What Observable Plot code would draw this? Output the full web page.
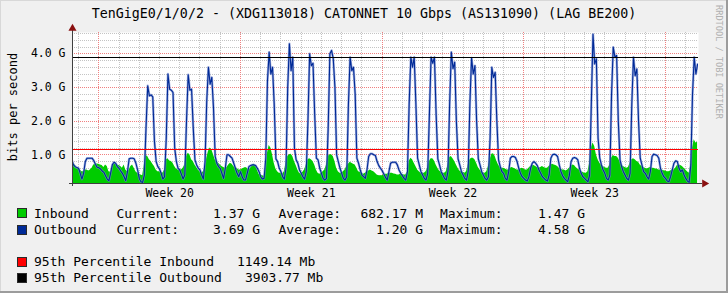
<!DOCTYPE html>
<html><head><meta charset="utf-8">
<script src="https://cdn.jsdelivr.net/npm/d3@7"></script>
<script src="https://cdn.jsdelivr.net/npm/@observablehq/plot@0.6"></script>
<style>
html,body{margin:0;padding:0;background:#f0f0f0;}
#wrap{position:relative;width:728px;height:293px;background:#f0f0f0;overflow:hidden;font-family:"DejaVu Sans Mono",monospace;color:#000;}
#wrap svg{position:absolute;left:0;top:0;}
.t{position:absolute;white-space:pre;font-size:13px;line-height:15px;}
.sw{position:absolute;width:8px;height:8px;border:1px solid #2a2a2a;}
.bd{position:absolute;}
</style></head><body>
<div id="wrap"></div>
<script>
// ---- data: samples every 2 hours, first sample = Saturday 16:00 before Week 20 ----
const firstSampleHour = -32;   // hours relative to Monday 00:00 of Week 20
const sampleStepHours = 2;
// Outbound (Gbit/s), one line per day (00h..22h)
const outboundGbps = [
  0.85,0.7,0.65,0.62,
  0.6,0.45,0.28,0.45,0.8,0.9,0.9,0.9,0.9,0.83,0.72,0.63,
  0.62,0.58,0.52,0.48,0.38,0.28,0.23,0.45,0.7,0.78,0.75,0.65,
  0.6,0.52,0.45,0.35,0.23,0.5,0.88,0.9,0.9,0.88,0.75,0.55,
  0.3,0.2,0.18,0.4,1.8,3.05,2.75,2.78,2.72,1.4,0.8,0.65,
  0.58,0.45,0.28,0.35,1.5,3.4,2.95,2.92,2.85,1.2,0.8,0.6,
  0.55,0.42,0.28,0.4,2.0,3.38,2.92,2.95,1.8,0.85,0.7,0.6,
  0.55,0.4,0.28,0.8,2.6,3.6,3.1,3.3,2.4,0.95,0.75,0.65,
  0.6,0.45,0.3,0.6,1.0,1.0,0.95,0.9,0.75,0.6,0.45,0.35,
  0.5,0.35,0.25,0.25,0.45,0.65,0.68,0.7,0.7,0.68,0.6,0.5,
  0.35,0.28,0.3,0.9,3.2,4.05,3.4,3.6,2.5,0.88,0.8,0.6,
  0.5,0.35,0.28,0.6,3.0,4.3,3.5,3.9,1.2,0.85,0.75,0.55,
  0.45,0.35,0.28,0.5,2.0,4.0,3.65,3.72,2.2,0.9,0.85,0.6,
  0.45,0.3,0.25,0.3,1.8,4.0,4.1,3.86,3.0,1.0,0.8,0.6,
  0.45,0.3,0.25,0.35,2.5,3.9,3.5,3.6,2.8,0.9,0.75,0.55,
  0.4,0.35,0.3,0.55,0.95,1.03,1.03,1.0,0.98,0.8,0.68,0.6,
  0.53,0.43,0.33,0.25,0.5,0.75,0.78,0.78,0.78,0.7,0.55,0.45,
  0.38,0.3,0.25,0.5,2.5,3.9,3.6,3.9,2.5,0.9,0.7,0.5,
  0.4,0.3,0.25,0.45,2.2,3.9,3.72,3.9,2.2,0.88,0.7,0.5,
  0.4,0.3,0.25,0.5,2.5,4.05,3.56,3.75,2.0,0.88,0.7,0.5,
  0.4,0.3,0.25,0.5,2.5,3.88,3.4,3.65,2.0,0.88,0.7,0.5,
  0.4,0.3,0.25,0.35,1.5,3.6,3.3,3.45,2.0,0.85,0.65,0.5,
  0.45,0.3,0.25,0.5,0.9,0.95,0.95,0.92,0.8,0.6,0.45,0.35,
  0.3,0.25,0.22,0.35,0.6,0.75,0.8,0.75,0.68,0.55,0.45,0.35,
  0.3,0.25,0.22,0.4,0.9,1.0,1.02,1.0,0.95,0.7,0.5,0.38,
  0.3,0.25,0.2,0.4,0.8,0.9,0.92,0.9,0.85,0.6,0.45,0.35,
  0.3,0.25,0.2,0.4,2.5,4.58,3.7,3.85,1.5,0.9,0.7,0.55,
  0.45,0.3,0.25,0.4,2.8,4.2,3.9,3.95,2.0,0.85,0.65,0.5,
  0.4,0.3,0.25,0.45,2.5,3.9,3.35,3.55,2.0,0.9,0.7,0.5,
  0.45,0.35,0.28,0.5,0.95,1.02,1.0,0.98,0.9,0.6,0.45,0.35,
  0.3,0.22,0.2,0.35,0.55,0.75,0.82,0.8,0.6,0.5,0.55,0.4,
  0.3,0.22,0.18,0.7,2.8,3.9,3.4,3.69
];
// Inbound (Gbit/s)
const inboundGbps = [
  0.75,0.72,0.7,0.6,
  0.6,0.55,0.5,0.5,0.55,0.55,0.52,0.55,0.6,0.7,0.72,0.73,
  0.72,0.7,0.68,0.62,0.7,0.65,0.5,0.48,0.65,0.72,0.73,0.7,
  0.68,0.65,0.6,0.7,0.55,0.5,0.55,0.65,0.7,0.6,0.5,0.45,
  0.42,0.4,0.38,0.7,0.98,0.95,0.85,0.8,0.72,0.65,0.55,0.5,
  0.5,0.48,0.45,0.55,0.85,0.88,0.82,0.8,0.75,0.65,0.58,0.55,
  0.55,0.55,0.6,0.7,0.95,1.05,1.0,0.85,0.8,0.7,0.62,0.55,
  0.5,0.45,0.5,0.6,0.9,1.1,1.2,1.15,1.0,0.85,0.8,0.75,
  0.7,0.65,0.62,0.6,0.62,0.7,0.75,0.72,0.65,0.6,0.6,0.55,
  0.55,0.58,0.6,0.62,0.6,0.55,0.6,0.7,0.72,0.68,0.55,0.42,
  0.4,0.38,0.35,0.6,1.05,1.28,1.2,1.0,0.75,0.58,0.5,0.45,
  0.45,0.42,0.5,0.75,0.95,1.0,1.02,0.95,0.8,0.68,0.55,0.45,
  0.42,0.48,0.55,0.7,0.85,0.88,0.85,0.8,0.7,0.55,0.45,0.42,
  0.45,0.5,0.55,0.7,0.95,1.0,1.0,0.95,0.8,0.6,0.5,0.45,
  0.45,0.5,0.55,0.65,0.72,0.78,0.75,0.72,0.7,0.6,0.5,0.48,
  0.45,0.42,0.45,0.5,0.52,0.55,0.52,0.5,0.45,0.4,0.38,0.38,
  0.38,0.4,0.42,0.42,0.45,0.45,0.45,0.43,0.42,0.4,0.4,0.42,
  0.42,0.4,0.4,0.5,0.8,0.9,0.85,0.75,0.65,0.55,0.5,0.45,
  0.45,0.45,0.5,0.6,0.8,0.88,0.88,0.82,0.7,0.6,0.52,0.48,
  0.45,0.45,0.5,0.7,0.92,0.95,0.88,0.8,0.7,0.6,0.52,0.5,
  0.48,0.45,0.5,0.7,0.85,0.9,0.9,0.85,0.75,0.62,0.55,0.5,
  0.45,0.45,0.5,0.65,0.85,1.02,1.03,0.95,0.8,0.7,0.62,0.6,
  0.6,0.58,0.55,0.55,0.6,0.62,0.6,0.58,0.55,0.55,0.58,0.6,
  0.58,0.55,0.55,0.6,0.65,0.68,0.68,0.65,0.62,0.6,0.62,0.65,
  0.62,0.6,0.6,0.65,0.7,0.72,0.7,0.68,0.65,0.6,0.58,0.55,
  0.55,0.52,0.55,0.6,0.65,0.7,0.68,0.62,0.58,0.55,0.5,0.48,
  0.45,0.45,0.5,0.75,1.2,1.35,1.25,1.0,0.85,0.75,0.7,0.65,
  0.62,0.6,0.6,0.7,0.9,0.98,0.95,0.95,0.9,0.8,0.7,0.65,
  0.62,0.6,0.62,0.75,0.85,0.88,0.85,0.8,0.78,0.7,0.65,0.62,
  0.6,0.58,0.6,0.62,0.6,0.6,0.58,0.58,0.55,0.55,0.55,0.53,
  0.52,0.5,0.5,0.52,0.55,0.55,0.6,0.68,0.7,0.68,0.65,0.6,
  0.55,0.5,0.45,0.7,1.2,1.45,1.35,1.37
];
const p95Inbound = 1.14914;   // Gbit/s
const p95Outbound = 3.90377;  // Gbit/s
const weekLabels = ["Week 20","Week 21","Week 22","Week 23"];
const weekCenters = [3.5, 10.5, 17.5, 24.5];          // days
const weekStarts = [0, 7, 14, 21, 28];                // days
const dayTicks = [-1,1,2,3,4,5,6,8,9,10,11,12,13,15,16,17,18,19,20,22,23,24,25,26,27,29];
const yMajor = [1, 2, 3, 4];
const yMinor = [0.2,0.4,0.6,0.8,1.2,1.4,1.6,1.8,2.2,2.4,2.6,2.8,3.2,3.4,3.6,3.8,4.2,4.4,4.6];
const xDomain = [-1.299, 29.629];
const yDomain = [0.148, 4.633];

const title = "TenGigE0/1/0/2 - (XDG113018) CATONNET 10 Gbps (AS131090) (LAG BE200)";
const legendRows = [
  {name:"Inbound",  color:"#00cc00", cur:"1.37 G", avg:"682.17 M", max:"1.47 G"},
  {name:"Outbound", color:"#002a97", cur:"3.69 G", avg:"1.20 G",   max:"4.58 G"}
];
const pctRows = [
  {name:"95th Percentile Inbound",  color:"#ff0000", value:"1149.14 Mb"},
  {name:"95th Percentile Outbound", color:"#000000", value:"3903.77 Mb"}
];

const samples = outboundGbps.map((v, i) => ({
  day: (firstSampleHour + i * sampleStepHours) / 24,
  out: v,
  inb: inboundGbps[i]
}));

const crisp = {shapeRendering: "crispEdges"};
const chart = Plot.plot({
  width: 728, height: 200,
  marginLeft: 72, marginRight: 30, marginTop: 32, marginBottom: 17,
  style: {background: "transparent", fontFamily: "'DejaVu Sans Mono', monospace", fontSize: "11.5px", color: "#000"},
  x: {domain: xDomain, axis: null},
  y: {domain: yDomain, axis: null},
  marks: [
    Plot.frame({fill: "#ffffff", stroke: "none"}),
    Plot.ruleY(yMinor, {stroke: "#c4c4c4", strokeDasharray: "1,1", ...crisp}),
    Plot.ruleX(dayTicks, {stroke: "#c4c4c4", strokeDasharray: "1,1", ...crisp}),
    Plot.ruleY(yMajor, {stroke: "#f08080", strokeDasharray: "1,1", ...crisp}),
    Plot.ruleX(weekStarts, {stroke: "#f08080", strokeDasharray: "1,1", ...crisp}),
    Plot.areaY(samples, {x: "day", y1: yDomain[0], y2: "inb", fill: "#00cc00", clip: true}),
    Plot.lineY(samples, {x: "day", y: "out", stroke: "#7b8fd0", strokeWidth: 2.4, strokeOpacity: 0.7, clip: true}),
    Plot.lineY(samples, {x: "day", y: "out", stroke: "#002a97", strokeWidth: 1.1, clip: true}),
    Plot.ruleY([p95Inbound], {stroke: "#ff0000", strokeWidth: 1, ...crisp}),
    Plot.ruleY([p95Outbound], {stroke: "#000000", strokeWidth: 1, ...crisp}),
    Plot.ruleY([yDomain[0]], {stroke: "#404040", strokeWidth: 1, insetLeft: -3, insetRight: -4, ...crisp}),
    Plot.ruleX([xDomain[0]], {stroke: "#404040", strokeWidth: 1, insetTop: -3, insetBottom: -3, ...crisp}),
    Plot.dot([{x: xDomain[1], y: yDomain[0]}], {x: "x", y: "y", symbol: "triangle", r: 3, fill: "#8a1010", stroke: "none", rotate: 90, dx: 6}),
    Plot.dot([{x: xDomain[0], y: yDomain[1]}], {x: "x", y: "y", symbol: "triangle", r: 3, fill: "#8a1010", stroke: "none", dy: -4}),
    Plot.axisY(yMajor, {anchor: "left", tickSize: 0, tickPadding: 7, tickFormat: d => d.toFixed(1) + " G", fill: "#000"}),
    Plot.axisX(weekCenters, {anchor: "bottom", tickSize: 0, tickPadding: 5, tickFormat: (d, i) => weekLabels[i], fill: "#000"})
  ]
});

const wrap = document.getElementById("wrap");
wrap.appendChild(chart);

function add(cls, css, text) {
  const el = document.createElement("div");
  el.className = cls;
  Object.assign(el.style, css);
  if (text != null) el.textContent = text;
  wrap.appendChild(el);
  return el;
}
// frame borders
add("bd", {left:"0", top:"0", width:"728px", height:"1px", background:"#d8d8d8"});
add("bd", {left:"0", top:"0", width:"1px", height:"293px", background:"#d8d8d8"});
add("bd", {left:"726px", top:"0", width:"2px", height:"293px", background:"#9c9c9c"});
add("bd", {left:"0", top:"291px", width:"728px", height:"2px", background:"#9c9c9c"});

// title
add("t", {left:"0", top:"6px", width:"728px", textAlign:"center", fontSize:"13.3px"}, title);
// y axis title
add("t", {left:"13px", top:"107px", fontSize:"12px", transform:"translate(-50%,-50%) rotate(-90deg)"}, "bits per second");
// watermark
add("t", {left:"718px", top:"62px", fontSize:"8.6px", color:"#b0b0b0", transform:"translate(-50%,-50%) rotate(90deg)"}, "RRDTOOL / TOBI OETIKER");

// legend
const rowY = [213.3, 229.6];
legendRows.forEach((r, i) => {
  const y = rowY[i];
  add("sw", {left:"17px", top:(y - 5) + "px", background:r.color});
  add("t", {left:"34px", top:(y - 7.5) + "px"}, r.name);
  add("t", {left:"116.5px", top:(y - 7.5) + "px"}, "Current:");
  add("t", {left:"160px", width:"100px", textAlign:"right", top:(y - 7.5) + "px"}, r.cur);
  add("t", {left:"278.5px", top:(y - 7.5) + "px"}, "Average:");
  add("t", {left:"323px", width:"100px", textAlign:"right", top:(y - 7.5) + "px"}, r.avg);
  add("t", {left:"440px", top:(y - 7.5) + "px"}, "Maximum:");
  add("t", {left:"485px", width:"100px", textAlign:"right", top:(y - 7.5) + "px"}, r.max);
});
const pctY = [261.7, 277.6];
const pctValX = [237, 245];
pctRows.forEach((r, i) => {
  const y = pctY[i];
  add("sw", {left:"17px", top:(y - 5) + "px", background:r.color});
  add("t", {left:"34px", top:(y - 7.5) + "px"}, r.name);
  add("t", {left:pctValX[i] + "px", top:(y - 7.5) + "px"}, r.value);
});
</script>
</body></html>
